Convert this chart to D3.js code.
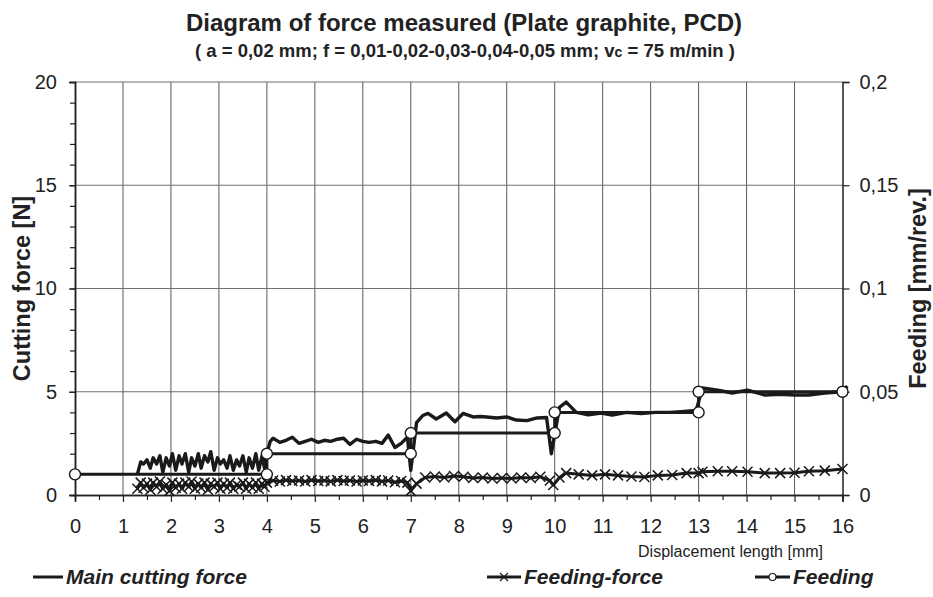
<!DOCTYPE html>
<html>
<head>
<meta charset="utf-8">
<script src="https://cdn.jsdelivr.net/npm/d3@7"></script>
<style>
  body { margin: 0; background: #fff; }
  svg { font-family: Arial, "Liberation Sans", sans-serif; }
</style>
</head>
<body>
<script>
// feeding steps (right axis, mm/rev)
var feedPos  = [0, 4, 4, 7, 7, 10, 10, 13, 13, 16];
var feedRate = [0.01, 0.01, 0.02, 0.02, 0.03, 0.03, 0.04, 0.04, 0.05, 0.05];

// main cutting force [displacement mm, force N]
var mainForce = [
  [1.30,1.0],[1.37,1.6],[1.43,1.5],[1.50,1.7],[1.57,1.3],[1.63,1.8],[1.70,1.5],[1.77,1.9],[1.83,1.1],[1.90,1.8],
  [1.97,1.4],[2.03,2.0],[2.10,1.2],[2.17,1.9],[2.23,1.5],[2.30,2.0],[2.37,1.1],[2.43,1.8],[2.50,1.4],[2.57,2.0],
  [2.63,1.3],[2.70,1.9],[2.77,1.6],[2.83,2.1],[2.90,1.2],[2.97,1.8],[3.03,1.5],[3.10,1.7],[3.17,1.3],[3.23,1.9],
  [3.30,1.2],[3.37,1.7],[3.43,1.4],[3.50,1.9],[3.57,1.1],[3.63,1.8],[3.70,1.3],[3.77,2.0],[3.83,1.2],[3.90,1.9],
  [3.95,1.3],
  [4.00,2.0],[4.07,2.6],[4.13,2.75],[4.27,2.55],[4.40,2.65],[4.53,2.8],[4.67,2.5],[4.80,2.6],[4.93,2.7],[5.07,2.55],
  [5.20,2.65],[5.33,2.6],[5.47,2.7],[5.60,2.75],[5.73,2.45],[5.87,2.7],[6.00,2.6],[6.13,2.55],[6.27,2.6],[6.40,2.5],
  [6.53,2.9],[6.67,2.3],[6.80,2.5],[6.93,2.8],[7.00,1.2],
  [7.12,3.5],[7.25,3.85],[7.36,3.95],[7.53,3.68],[7.74,3.97],[7.92,3.55],[8.09,3.95],[8.30,3.78],[8.45,3.8],[8.58,3.78],
  [8.79,3.73],[9.00,3.78],[9.20,3.63],[9.42,3.6],[9.63,3.73],[9.83,3.75],[9.88,2.9],[9.93,2.0],
  [10.10,4.25],[10.24,4.5],[10.45,4.0],[10.70,3.88],[10.97,3.97],[11.20,3.87],[11.50,4.0],[11.80,3.95],[12.10,4.0],
  [12.40,4.0],[12.70,4.05],[12.95,4.1],
  [13.08,5.18],[13.40,5.08],[13.70,4.94],[14.02,5.08],[14.38,4.84],[14.70,4.88],[15.00,4.84],[15.30,4.84],[15.63,4.94],
  [16.00,5.0],[16.10,5.28]
];

// feeding force [displacement mm, force N]
var feedForce = [
  [1.30,0.3],[1.37,0.6],[1.43,0.35],[1.50,0.55],[1.57,0.25],[1.63,0.6],[1.70,0.4],[1.77,0.65],[1.83,0.3],[1.90,0.5],
  [1.97,0.2],[2.03,0.6],[2.10,0.35],[2.17,0.55],[2.23,0.3],[2.30,0.6],[2.37,0.4],[2.43,0.65],[2.50,0.3],[2.57,0.55],
  [2.63,0.35],[2.70,0.6],[2.77,0.25],[2.83,0.55],[2.90,0.4],[2.97,0.6],[3.03,0.3],[3.10,0.55],[3.17,0.35],[3.23,0.6],
  [3.30,0.3],[3.37,0.5],[3.43,0.4],[3.50,0.6],[3.57,0.3],[3.63,0.55],[3.70,0.35],[3.77,0.6],[3.83,0.3],[3.90,0.55],
  [3.95,0.4],
  [4.00,0.6],[4.13,0.7],[4.27,0.65],[4.40,0.72],[4.53,0.68],[4.67,0.7],[4.80,0.65],[4.93,0.72],[5.07,0.68],[5.20,0.7],
  [5.33,0.66],[5.47,0.72],[5.60,0.68],[5.73,0.7],[5.87,0.65],[6.00,0.7],[6.13,0.68],[6.27,0.72],[6.40,0.66],[6.53,0.7],
  [6.67,0.62],[6.80,0.68],[6.93,0.6],[7.00,0.2],
  [7.12,0.55],[7.30,0.85],[7.50,0.9],[7.70,0.85],[7.90,0.92],[8.10,0.88],[8.30,0.82],[8.50,0.85],[8.70,0.8],[8.90,0.82],
  [9.10,0.8],[9.30,0.85],[9.50,0.82],[9.70,0.88],[9.90,0.7],[9.97,0.48],
  [10.10,0.85],[10.24,1.06],[10.50,1.0],[10.78,0.95],[11.05,1.0],[11.32,0.95],[11.60,0.9],[11.87,0.87],[12.15,0.95],
  [12.45,0.97],[12.75,1.06],[13.00,1.06],
  [13.08,1.13],[13.40,1.15],[13.70,1.15],[14.02,1.13],[14.38,1.06],[14.70,1.06],[15.00,1.08],[15.30,1.15],[15.63,1.18],
  [16.00,1.26]
];

var xTicks = [0, 1, 2, 3, 4, 5, 6, 7, 8, 9, 10, 11, 12, 13, 14, 15, 16];
var forceTicks = [0, 5, 10, 15, 20];
var rateTicks = [0, 0.05, 0.1, 0.15, 0.2];

var width = 933,
    height = 597,
    margin = {top: 82, right: 90.5, bottom: 102, left: 75};

var svg = d3.select("body").append("svg")
    .attr("width", width)
    .attr("height", height);

var x = d3.scaleLinear().domain([0, 16]).range([margin.left, width - margin.right]);
var yL = d3.scaleLinear().domain([0, 20]).range([height - margin.bottom, margin.top]);
var yR = d3.scaleLinear().domain([0, 0.2]).range([height - margin.bottom, margin.top]);

var comma = function (d) { return String(d).replace(".", ","); };

// grid
var grid = svg.append("g").attr("class", "grid");
grid.selectAll("line.v")
    .data(xTicks.slice(1, -1))
    .enter().append("line")
    .attr("class", "v")
    .attr("x1", function (d) { return x(d); })
    .attr("x2", function (d) { return x(d); })
    .attr("y1", yL(0))
    .attr("y2", yL(20))
    .attr("stroke", "#5a5a5a")
    .attr("stroke-width", 1);
grid.selectAll("line.h")
    .data(forceTicks.slice(1))
    .enter().append("line")
    .attr("class", "h")
    .attr("x1", x(0))
    .attr("x2", x(16))
    .attr("y1", function (d) { return yL(d); })
    .attr("y2", function (d) { return yL(d); })
    .attr("stroke", "#707070")
    .attr("stroke-width", 1);

// axes
var axisStyle = function (g) {
    g.select(".domain").attr("stroke", "#222").attr("stroke-width", 1.5);
    g.selectAll(".tick line").attr("stroke", "#222").attr("stroke-width", 1.2);
    g.selectAll("text").attr("font-size", 20).attr("fill", "#222")
        .attr("font-family", "Arial, 'Liberation Sans', sans-serif");
};

// minor ticks first
svg.append("g")
    .attr("transform", "translate(" + x(0) + ",0)")
    .call(d3.axisLeft(yL).tickValues(d3.range(0, 21, 1)).tickSize(5).tickFormat(""))
    .call(axisStyle);
svg.append("g")
    .attr("transform", "translate(0," + yL(0) + ")")
    .call(d3.axisBottom(x).tickValues(d3.range(0.5, 16, 1)).tickSize(5).tickFormat(""))
    .call(axisStyle);

svg.append("g")
    .attr("transform", "translate(" + x(0) + ",0)")
    .call(d3.axisLeft(yL).tickValues(forceTicks).tickSize(6).tickPadding(12))
    .call(axisStyle);
svg.append("g")
    .attr("transform", "translate(" + x(16) + ",0)")
    .call(d3.axisRight(yR).tickValues(rateTicks).tickSize(7).tickPadding(10).tickFormat(comma))
    .call(axisStyle);
svg.append("g")
    .attr("transform", "translate(0," + yL(0) + ")")
    .call(d3.axisBottom(x).tickValues(xTicks).tickSize(7).tickPadding(17))
    .call(axisStyle);

// series
var forceLine = d3.line()
    .x(function (d) { return x(d[0]); })
    .y(function (d) { return yL(d[1]); });

svg.append("path")
    .datum(feedForce)
    .attr("d", forceLine)
    .attr("fill", "none")
    .attr("stroke", "#1a1a1a")
    .attr("stroke-width", 3)
    .attr("stroke-linejoin", "round");

var cross = "M-5,-5L5,5M-5,5L5,-5";
svg.append("g").selectAll("path")
    .data(feedForce)
    .enter().append("path")
    .attr("transform", function (d) { return "translate(" + x(d[0]) + "," + yL(d[1]) + ")"; })
    .attr("d", cross)
    .attr("fill", "none")
    .attr("stroke", "#1a1a1a")
    .attr("stroke-width", 1.5);

svg.append("path")
    .datum(mainForce)
    .attr("d", forceLine)
    .attr("fill", "none")
    .attr("stroke", "#1a1a1a")
    .attr("stroke-width", 3.4)
    .attr("stroke-linejoin", "round");

var feedData = feedPos.map(function (p, i) { return [p, feedRate[i]]; });
svg.append("path")
    .datum(feedData)
    .attr("d", d3.line()
        .x(function (d) { return x(d[0]); })
        .y(function (d) { return yR(d[1]); }))
    .attr("fill", "none")
    .attr("stroke", "#1a1a1a")
    .attr("stroke-width", 3);

svg.append("g").selectAll("circle")
    .data(feedData)
    .enter().append("circle")
    .attr("cx", function (d) { return x(d[0]); })
    .attr("cy", function (d) { return yR(d[1]); })
    .attr("r", 5.5)
    .attr("fill", "#fff")
    .attr("stroke", "#1a1a1a")
    .attr("stroke-width", 1.4);

// titles
svg.append("text")
    .attr("x", 464).attr("y", 31)
    .attr("text-anchor", "middle")
    .attr("font-size", 24).attr("font-weight", "bold").attr("fill", "#222")
    .text("Diagram of force measured (Plate graphite, PCD)");

var sub = svg.append("text")
    .attr("x", 465).attr("y", 57)
    .attr("text-anchor", "middle")
    .attr("font-size", 18.5).attr("font-weight", "bold").attr("fill", "#222");
sub.append("tspan").text("( a = 0,02 mm; f = 0,01-0,02-0,03-0,04-0,05 mm; v");
sub.append("tspan").attr("font-size", 14).text("c");
sub.append("tspan").text(" = 75 m/min )");

svg.append("text")
    .attr("transform", "translate(30," + yL(10) + ") rotate(-90)")
    .attr("text-anchor", "middle")
    .attr("font-size", 23.5).attr("font-weight", "bold").attr("fill", "#222")
    .text("Cutting force [N]");

svg.append("text")
    .attr("transform", "translate(926," + yL(10) + ") rotate(-90)")
    .attr("text-anchor", "middle")
    .attr("font-size", 23.5).attr("font-weight", "bold").attr("fill", "#222")
    .text("Feeding [mm/rev.]");

svg.append("text")
    .attr("x", 823).attr("y", 557)
    .attr("text-anchor", "end")
    .attr("font-size", 16).attr("fill", "#222")
    .text("Displacement length [mm]");

// legend
var legendY = 577;
var legend = svg.append("g").attr("class", "legend");
var items = [
    {label: "Main cutting force", x0: 33, x1: 63, mark: null},
    {label: "Feeding-force", x0: 487, x1: 521, mark: "cross"},
    {label: "Feeding", x0: 755, x1: 790, mark: "circle"}
];
items.forEach(function (it) {
    legend.append("line")
        .attr("x1", it.x0).attr("x2", it.x1)
        .attr("y1", legendY).attr("y2", legendY)
        .attr("stroke", "#1a1a1a").attr("stroke-width", 3);
    var cx = (it.x0 + it.x1) / 2;
    if (it.mark === "cross") {
        legend.append("path")
            .attr("transform", "translate(" + cx + "," + legendY + ")")
            .attr("d", "M-4,-4L4,4M-4,4L4,-4")
            .attr("stroke", "#1a1a1a").attr("stroke-width", 1.2);
    } else if (it.mark === "circle") {
        legend.append("circle")
            .attr("cx", cx).attr("cy", legendY).attr("r", 3.5)
            .attr("fill", "#fff").attr("stroke", "#1a1a1a").attr("stroke-width", 1.2);
    }
    legend.append("text")
        .attr("x", it.x1 + 3).attr("y", legendY + 7)
        .attr("font-size", 21).attr("font-weight", "bold").attr("font-style", "italic")
        .attr("fill", "#222")
        .text(it.label);
});
</script>
</body>
</html>
